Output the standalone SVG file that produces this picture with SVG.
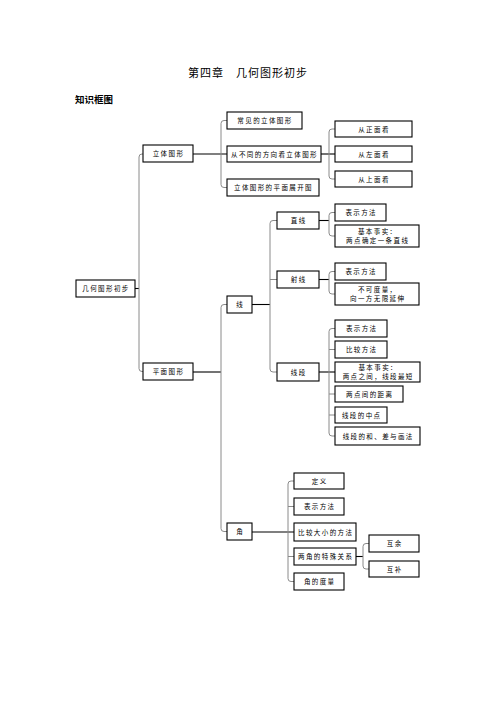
<svg xmlns="http://www.w3.org/2000/svg" width="496" height="702" viewBox="0 0 496 702">
<style>
.bg{fill:#fff}
.box{fill:#fff;stroke:#000;stroke-width:1.1}
.t{font-family:"Noto Sans CJK SC","Noto Sans CJK JP",sans-serif;font-size:6.5px;letter-spacing:1.4px;fill:#000;text-anchor:middle}
.br{fill:none;stroke:#8a8a8a;stroke-width:1}
.hl{fill:none;stroke:#000;stroke-width:1.1}
.title{font-family:"Noto Sans CJK SC",sans-serif;font-size:11px;letter-spacing:1px;fill:#000}
.sub{font-family:"Noto Sans CJK SC",sans-serif;font-size:9.5px;font-weight:bold;fill:#000}
</style>
<rect class="bg" x="0" y="0" width="496" height="702"/>
<text class="title" x="188" y="77">第四章　几何图形初步</text>
<text class="sub" x="75" y="103">知识框图</text>

<g id="connectors">
<!-- root -->
<line class="hl" x1="135" y1="288.5" x2="139" y2="288.5"/>
<path class="br" d="M143,154 H142 Q139,154 139,157 V368.5 Q139,371.5 142,371.5 H143"/>
<!-- 立体图形 -->
<line class="hl" x1="193" y1="154" x2="227" y2="154"/>
<path class="br" d="M227,120.5 H224 Q221,120.5 221,123.5 V184.5 Q221,187.5 224,187.5 H227"/>
<!-- 从不同方向 -->
<line class="hl" x1="321" y1="154" x2="335" y2="154"/>
<path class="br" d="M335,129 H332 Q329,129 329,132 V176 Q329,179 332,179 H335"/>
<!-- 平面图形 -->
<line class="hl" x1="193" y1="372" x2="221" y2="372"/>
<path class="br" d="M227,304.5 H224 Q221,304.5 221,307.5 V528.5 Q221,531.5 224,531.5 H227"/>
<!-- 线 -->
<line class="hl" x1="252" y1="304.5" x2="270" y2="304.5"/>
<path class="br" d="M277,220.5 H273 Q270,220.5 270,223.5 V369 Q270,372 273,372 H277"/>
<line class="br" x1="270" y1="279.5" x2="277" y2="279.5"/>
<!-- 直线 -->
<line class="hl" x1="319" y1="220.5" x2="329" y2="220.5"/>
<path class="br" d="M335,212.5 H332 Q329,212.5 329,215.5 V233 Q329,236 332,236 H335"/>
<!-- 射线 -->
<line class="hl" x1="319" y1="279.5" x2="329" y2="279.5"/>
<path class="br" d="M335,271.5 H332 Q329,271.5 329,274.5 V291 Q329,294 332,294 H335"/>
<!-- 线段 -->
<line class="hl" x1="319" y1="372" x2="335" y2="372"/>
<path class="br" d="M335,328.5 H332 Q329,328.5 329,331.5 V433 Q329,436 332,436 H335"/>
<line class="br" x1="329" y1="349.5" x2="335" y2="349.5"/>
<line class="br" x1="329" y1="394" x2="335" y2="394"/>
<line class="br" x1="329" y1="415" x2="335" y2="415"/>
<!-- 角 -->
<line class="hl" x1="252" y1="532" x2="294" y2="532"/>
<path class="br" d="M294,481 H291 Q288,481 288,484 V578.5 Q288,581.5 291,581.5 H294"/>
<line class="br" x1="288" y1="506.5" x2="294" y2="506.5"/>
<line class="br" x1="288" y1="556.5" x2="294" y2="556.5"/>
<!-- 两角的特殊关系 -->
<line class="hl" x1="356" y1="556.5" x2="363" y2="556.5"/>
<path class="br" d="M369,543.5 H366 Q363,543.5 363,546.5 V566 Q363,569 366,569 H369"/>
</g>

<g id="n-root"><rect class="box" x="76" y="280" width="59" height="17"/><text class="t" x="106" y="291">几何图形初步</text></g>
<g id="n-liti"><rect class="box" x="143" y="145" width="50" height="17"/><text class="t" x="168.5" y="156">立体图形</text></g>
<g id="n-pingmian"><rect class="box" x="143" y="363" width="50" height="17"/><text class="t" x="168.5" y="374">平面图形</text></g>

<g id="n-changjian"><rect class="box" x="227" y="112" width="75" height="17"/><text class="t" x="265" y="123">常见的立体图形</text></g>
<g id="n-fangxiang"><rect class="box" x="227" y="146" width="94" height="16"/><text class="t" x="274.5" y="156.5">从不同的方向看立体图形</text></g>
<g id="n-zhankai"><rect class="box" x="227" y="179" width="92" height="17"/><text class="t" x="273.5" y="190">立体图形的平面展开图</text></g>

<g id="n-zhengmian"><rect class="box" x="335" y="121" width="77" height="16"/><text class="t" x="374" y="131.5">从正面看</text></g>
<g id="n-zuomian"><rect class="box" x="335" y="146" width="77" height="16"/><text class="t" x="374" y="156.5">从左面看</text></g>
<g id="n-shangmian"><rect class="box" x="335" y="171" width="77" height="16"/><text class="t" x="374" y="181.5">从上面看</text></g>

<g id="n-xian"><rect class="box" x="227" y="296" width="25" height="17"/><text class="t" x="240.2" y="307">线</text></g>
<g id="n-jiao"><rect class="box" x="227" y="523" width="25" height="17"/><text class="t" x="240.2" y="534">角</text></g>

<g id="n-zhixian"><rect class="box" x="277" y="212" width="42" height="17"/><text class="t" x="298.7" y="223">直线</text></g>
<g id="n-shexian"><rect class="box" x="277" y="271" width="42" height="17"/><text class="t" x="298.7" y="282">射线</text></g>
<g id="n-xianduan"><rect class="box" x="277" y="363" width="42" height="18"/><text class="t" x="298.7" y="374.5">线段</text></g>

<g id="n-zx-biaoshi"><rect class="box" x="335" y="204" width="51" height="17"/><text class="t" x="361.2" y="215">表示方法</text></g>
<g id="n-zx-jiben"><rect class="box" x="335" y="225" width="84" height="22"/><text class="t" x="377.7" y="233.5">基本事实：</text><text class="t" x="377.7" y="243">两点确定一条直线</text></g>

<g id="n-sx-biaoshi"><rect class="box" x="335" y="263" width="51" height="17"/><text class="t" x="361.2" y="274">表示方法</text></g>
<g id="n-sx-buke"><rect class="box" x="335" y="283" width="84" height="22"/><text class="t" x="377.7" y="291.5">不可度量，</text><text class="t" x="377.7" y="301">向一方无限延伸</text></g>

<g id="n-xd-biaoshi"><rect class="box" x="335" y="320" width="52" height="17"/><text class="t" x="361.7" y="331">表示方法</text></g>
<g id="n-xd-bijiao"><rect class="box" x="335" y="341" width="52" height="17"/><text class="t" x="361.7" y="352">比较方法</text></g>
<g id="n-xd-jiben"><rect class="box" x="335" y="362" width="85" height="20"/><text class="t" x="378.2" y="369.5">基本事实：</text><text class="t" x="378.2" y="378.5">两点之间，线段最短</text></g>
<g id="n-xd-juli"><rect class="box" x="335" y="386" width="68" height="16"/><text class="t" x="369.7" y="396.5">两点间的距离</text></g>
<g id="n-xd-zhongdian"><rect class="box" x="335" y="407" width="52" height="16"/><text class="t" x="361.7" y="417.5">线段的中点</text></g>
<g id="n-xd-he"><rect class="box" x="335" y="427" width="85" height="18"/><text class="t" x="378.2" y="438.5">线段的和、差与画法</text></g>

<g id="n-dingyi"><rect class="box" x="294" y="473" width="50" height="16"/><text class="t" x="319.7" y="483.5">定义</text></g>
<g id="n-jiao-biaoshi"><rect class="box" x="294" y="498" width="50" height="17"/><text class="t" x="319.7" y="509">表示方法</text></g>
<g id="n-bijiao"><rect class="box" x="294" y="523" width="62" height="18"/><text class="t" x="325.7" y="534.5">比较大小的方法</text></g>
<g id="n-teshu"><rect class="box" x="294" y="548" width="62" height="17"/><text class="t" x="325.7" y="559">两角的特殊关系</text></g>
<g id="n-duliang"><rect class="box" x="294" y="573" width="50" height="17"/><text class="t" x="319.7" y="584">角的度量</text></g>

<g id="n-yujiao"><rect class="box" x="369" y="535" width="50" height="17"/><text class="t" x="394.7" y="546">互余</text></g>
<g id="n-bujiao"><rect class="box" x="369" y="561" width="50" height="16"/><text class="t" x="394.7" y="571.5">互补</text></g>
</svg>
